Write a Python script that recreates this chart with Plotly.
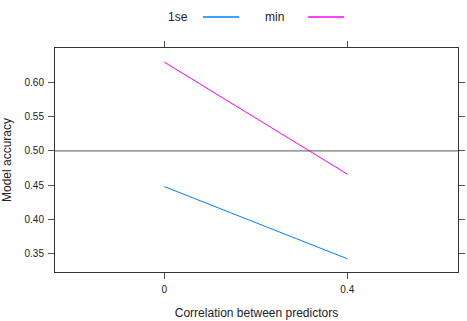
import plotly.graph_objects as go

x_vals = [0, 0.4]
series_names = ["1se", "min"]
acc_1se = [0.4477, 0.342]
acc_min = [0.630, 0.466]
y_ticks = [0.35, 0.40, 0.45, 0.50, 0.55, 0.60]
y_ticklabels = ["0.35", "0.40", "0.45", "0.50", "0.55", "0.60"]
x_ticks = [0, 0.4]
x_ticklabels = ["0", "0.4"]
ref_line = 0.5
colors = ["#0080ff", "#ff00ff"]

FONT = "Liberation Sans, Arial"

fig = go.Figure()
for name, vals, col in zip(series_names, [acc_1se, acc_min], colors):
    fig.add_trace(go.Scatter(x=x_vals, y=vals, mode="lines", name=name,
                             line=dict(color=col, width=1), showlegend=False))

fig.add_hline(y=ref_line, line=dict(color="#555555", width=1))

# manual lattice-style key
key_text_x = [0.335, 0.573]
key_line_x = [(0.367, 0.457), (0.628, 0.717)]
for name, col, tx, (lx0, lx1) in zip(series_names, colors, key_text_x, key_line_x):
    fig.add_annotation(x=tx, y=1.138, xref="paper", yref="paper", text=name,
                       showarrow=False, xanchor="right", yanchor="middle",
                       font=dict(family=FONT, size=12, color="#222"))
    fig.add_shape(type="line", xref="paper", yref="paper", x0=lx0, x1=lx1,
                  y0=1.138, y1=1.138, line=dict(color=col, width=1.5))

axis_common = dict(showgrid=False, zeroline=False, showline=True, linecolor="#333333",
                   linewidth=1, mirror="ticks", ticks="outside", ticklen=6,
                   tickcolor="#555555", ticklabelstandoff=2, automargin=False,
                   tickfont=dict(family=FONT, size=10, color="#222"))

fig.update_xaxes(range=[-0.239, 0.642], tickvals=x_ticks, ticktext=x_ticklabels,
                 title=dict(text="Correlation between predictors", standoff=14,
                            font=dict(family=FONT, size=12, color="#222")),
                 **axis_common)
fig.update_yaxes(range=[0.3226, 0.6508], tickvals=y_ticks, ticktext=y_ticklabels,
                 title=dict(text="Model accuracy", standoff=14,
                            font=dict(family=FONT, size=12, color="#222")),
                 **axis_common)

fig.update_layout(width=467, height=321, margin=dict(l=55, r=9, t=48, b=49),
                  plot_bgcolor="white", paper_bgcolor="white")

fig.write_html("out.html")
